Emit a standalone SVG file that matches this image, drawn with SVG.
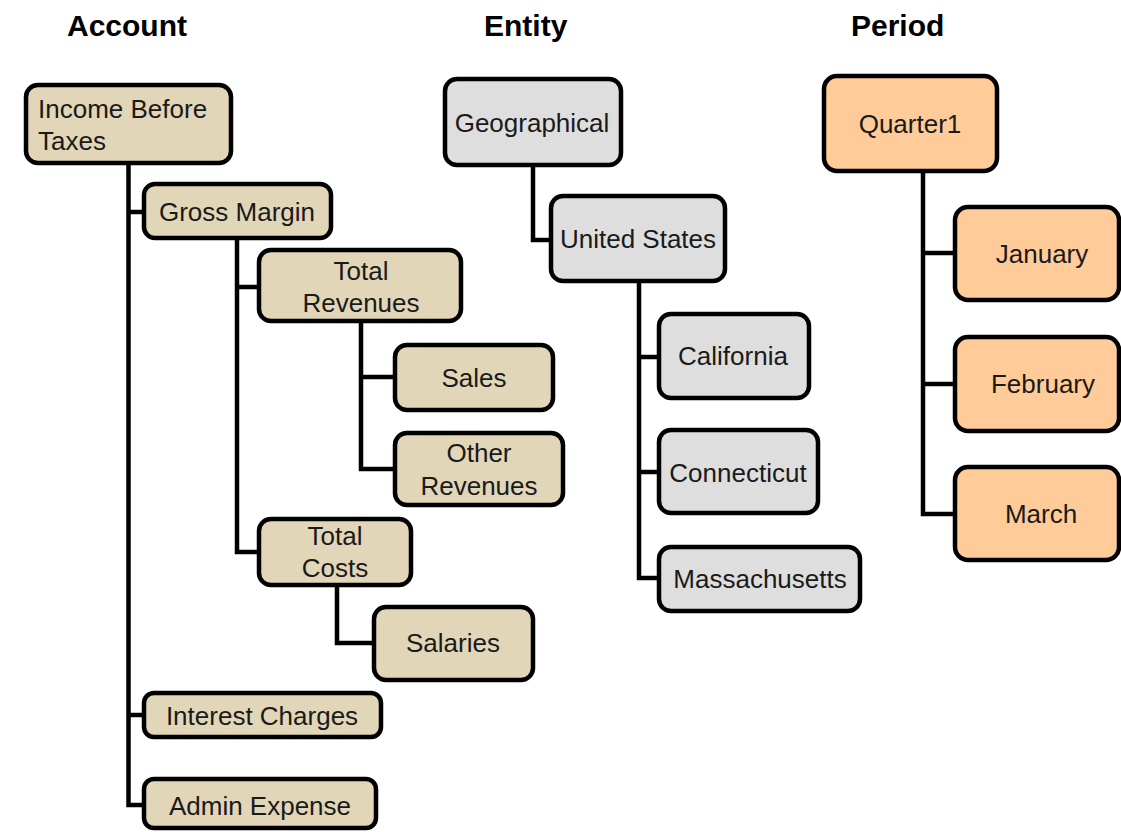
<svg xmlns="http://www.w3.org/2000/svg" width="1121" height="832" viewBox="0 0 1121 832">
<style>
.box{stroke:#000;stroke-width:4.5}
.acc{fill:#E2D6B8}
.ent{fill:#DEDEDE}
.per{fill:#FFCC99}
.t{font-family:"Liberation Sans",Arial,sans-serif;font-size:26px;fill:#1a1a1a;text-anchor:middle}
.h{font-family:"Liberation Sans",Arial,sans-serif;font-size:30px;font-weight:bold;fill:#000}
.c{fill:none;stroke:#000;stroke-width:4.5}
</style>
<rect width="1121" height="832" fill="#fff"/>
<g id="headers">
<text class="h" x="67" y="36">Account</text>
<text class="h" x="484" y="36">Entity</text>
<text class="h" x="851" y="36">Period</text>
</g>
<g id="connectors">
<path class="c" d="M128.5,165 V805 H144 M128.5,212 H144 M128.5,715 H144"/>
<path class="c" d="M237,240 V552 H259 M237,287 H259"/>
<path class="c" d="M361,323 V469 H395 M361,377 H395"/>
<path class="c" d="M337,587 V643 H374"/>
<path class="c" d="M533,167 V240 H551"/>
<path class="c" d="M639,283 V578 H659 M639,357 H659 M639,472 H659"/>
<path class="c" d="M923,173 V514 H955 M923,253 H955 M923,384 H955"/>
</g>
<g id="income-before-taxes"><rect class="box acc" x="26" y="85" width="205" height="78" rx="12"/><text class="t" x="38" y="118" style="text-anchor:start">Income Before</text><text class="t" x="38" y="150" style="text-anchor:start">Taxes</text></g>
<g id="gross-margin"><rect class="box acc" x="144" y="184" width="187" height="54" rx="11"/><text class="t" x="237" y="221">Gross Margin</text></g>
<g id="total-revenues"><rect class="box acc" x="259" y="250" width="202" height="71" rx="12"/><text class="t" x="361" y="280">Total</text><text class="t" x="361" y="312">Revenues</text></g>
<g id="sales"><rect class="box acc" x="395" y="345" width="158" height="65" rx="12"/><text class="t" x="474" y="387">Sales</text></g>
<g id="other-revenues"><rect class="box acc" x="395" y="433" width="168" height="72" rx="12"/><text class="t" x="479" y="462">Other</text><text class="t" x="479" y="495">Revenues</text></g>
<g id="total-costs"><rect class="box acc" x="259" y="519" width="152" height="66" rx="12"/><text class="t" x="335" y="545">Total</text><text class="t" x="335" y="577">Costs</text></g>
<g id="salaries"><rect class="box acc" x="374" y="607" width="159" height="73" rx="12"/><text class="t" x="453" y="652">Salaries</text></g>
<g id="interest-charges"><rect class="box acc" x="144" y="693" width="237" height="44" rx="10"/><text class="t" x="262" y="725">Interest Charges</text></g>
<g id="admin-expense"><rect class="box acc" x="144" y="779" width="232" height="49" rx="10"/><text class="t" x="260" y="815">Admin Expense</text></g>
<g id="geographical"><rect class="box ent" x="445" y="79" width="176" height="86" rx="12"/><text class="t" x="532" y="132">Geographical</text></g>
<g id="united-states"><rect class="box ent" x="551" y="196" width="174" height="85" rx="12"/><text class="t" x="638" y="248">United States</text></g>
<g id="california"><rect class="box ent" x="659" y="314" width="150" height="84" rx="12"/><text class="t" x="733" y="365">California</text></g>
<g id="connecticut"><rect class="box ent" x="659" y="430" width="159" height="83" rx="12"/><text class="t" x="738" y="482">Connecticut</text></g>
<g id="massachusetts"><rect class="box ent" x="659" y="547" width="201" height="64" rx="12"/><text class="t" x="760" y="588">Massachusetts</text></g>
<g id="quarter1"><rect class="box per" x="824" y="76" width="173" height="95" rx="13"/><text class="t" x="910" y="133">Quarter1</text></g>
<g id="january"><rect class="box per" x="955" y="207" width="164" height="93" rx="13"/><text class="t" x="1042" y="263">January</text></g>
<g id="february"><rect class="box per" x="955" y="337" width="164" height="94" rx="13"/><text class="t" x="1043" y="393">February</text></g>
<g id="march"><rect class="box per" x="955" y="467" width="164" height="93" rx="13"/><text class="t" x="1041" y="523">March</text></g>
</svg>
